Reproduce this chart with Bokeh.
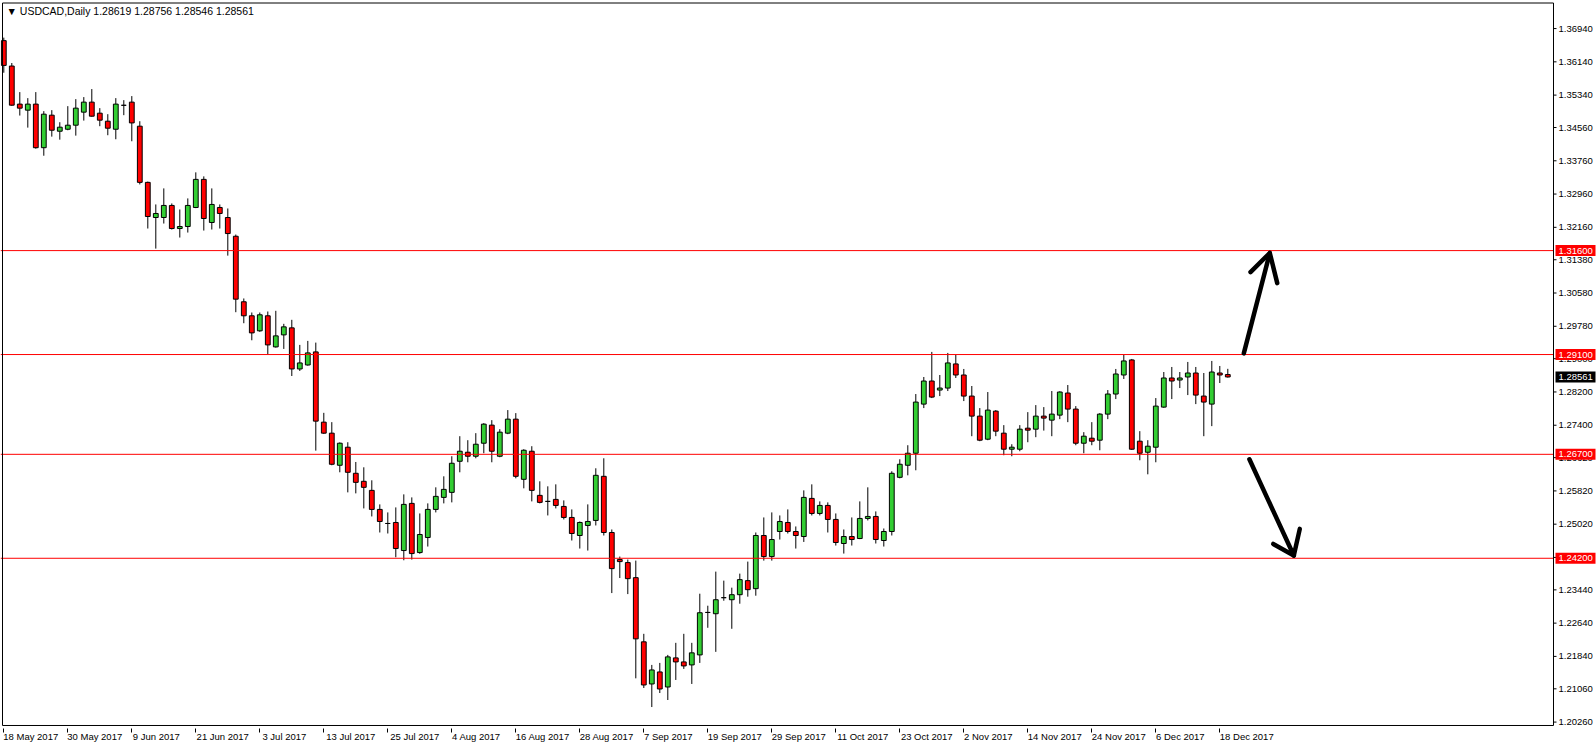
from bokeh.plotting import figure
from bokeh.models import (Range1d, FixedTicker, Label, ColumnDataSource)
from bokeh.core.properties import value
from bokeh.embed import file_html
from bokeh.resources import INLINE

# ---------------- data (USDCAD daily, 18 May 2017 - 19 Dec 2017) ----------------
opens = [1.36650, 1.36039, 1.35123, 1.34978, 1.35123, 1.34075, 1.34857, 1.34471, 1.34519, 1.34616,
         1.34930, 1.35171, 1.34905, 1.34712, 1.34519, 1.35095, 1.35171, 1.34592, 1.33241, 1.32396,
         1.32396, 1.32686, 1.32131, 1.32179, 1.32637, 1.33313, 1.32276, 1.32637, 1.32396, 1.31945,
         1.30369, 1.30032, 1.29670, 1.30032, 1.29284, 1.29573, 1.29742, 1.28753, 1.28849, 1.29163,
         1.27474, 1.27209, 1.26437, 1.26871, 1.26244, 1.26051, 1.25833, 1.25375, 1.25037, 1.25061,
         1.24386, 1.25520, 1.24337, 1.24699, 1.25375, 1.25664, 1.25785, 1.26533, 1.26750, 1.26654,
         1.26967, 1.27402, 1.26654, 1.27209, 1.27546, 1.26099, 1.26774, 1.25713, 1.25568, 1.25616,
         1.25447, 1.25182, 1.24748, 1.24989, 1.25110, 1.26171, 1.24820, 1.24169, 1.24096, 1.23734,
         1.22190, 1.21177, 1.21466, 1.21104, 1.21804, 1.21707, 1.21635, 1.21876, 1.22897, 1.22866,
         1.23252, 1.23203, 1.23324, 1.23662, 1.23469, 1.24748, 1.24241, 1.24844, 1.25061, 1.24844,
         1.24723, 1.25640, 1.25278, 1.25471, 1.25134, 1.24555, 1.24723, 1.24675, 1.25158, 1.25206,
         1.24627, 1.24844, 1.26147, 1.26437, 1.26726, 1.27908, 1.28463, 1.28246, 1.28294, 1.28874,
         1.28608, 1.28101, 1.27619, 1.27064, 1.27739, 1.27209, 1.26823, 1.26823, 1.27329, 1.27305,
         1.27619, 1.27522, 1.27643, 1.28174, 1.27788, 1.26967, 1.27088, 1.27040, 1.27667, 1.28150,
         1.28608, 1.28970, 1.27016, 1.26750, 1.26871, 1.27836, 1.28536, 1.28487, 1.28560, 1.28656,
         1.28101, 1.27908, 1.28656, 1.28619]
highs = [1.36722, 1.36112, 1.35412, 1.35267, 1.35412, 1.34954, 1.34978, 1.34688, 1.35074, 1.35243,
         1.35292, 1.35485, 1.35026, 1.34881, 1.35267, 1.35219, 1.35316, 1.34712, 1.33260, 1.32710,
         1.33096, 1.32734, 1.32589, 1.32855, 1.33482, 1.33385, 1.33096, 1.32710, 1.32613, 1.31986,
         1.30449, 1.30111, 1.30111, 1.30135, 1.30152, 1.29839, 1.29935, 1.29332, 1.29428, 1.29387,
         1.27698, 1.27474, 1.26987, 1.26991, 1.26516, 1.26388, 1.26075, 1.25496, 1.25303, 1.25423,
         1.25737, 1.25664, 1.25278, 1.25520, 1.25906, 1.26171, 1.26654, 1.27136, 1.27040, 1.27209,
         1.27450, 1.27522, 1.27305, 1.27764, 1.27691, 1.26823, 1.26895, 1.26051, 1.25930, 1.25978,
         1.25592, 1.25375, 1.25085, 1.25496, 1.26364, 1.26605, 1.24892, 1.24241, 1.24169, 1.24144,
         1.22383, 1.21635, 1.21683, 1.21876, 1.22166, 1.22383, 1.22166, 1.23348, 1.23059, 1.23879,
         1.23662, 1.23493, 1.23831, 1.24120, 1.24820, 1.25182, 1.25303, 1.25230, 1.25375, 1.24965,
         1.25833, 1.25978, 1.25568, 1.25544, 1.25278, 1.24892, 1.25182, 1.25568, 1.25906, 1.25327,
         1.24916, 1.26292, 1.26581, 1.26919, 1.28150, 1.28560, 1.29163, 1.28608, 1.29139, 1.29091,
         1.28753, 1.28343, 1.27812, 1.28198, 1.27764, 1.27402, 1.26943, 1.27402, 1.27715, 1.27884,
         1.27836, 1.28222, 1.28217, 1.28367, 1.27860, 1.27233, 1.27474, 1.27691, 1.28246, 1.28753,
         1.29091, 1.28994, 1.27257, 1.27040, 1.28053, 1.28680, 1.28801, 1.28680, 1.28922, 1.28801,
         1.28656, 1.28946, 1.28825, 1.28756]
lows = [1.35878, 1.35082, 1.34848, 1.34558, 1.34051, 1.33882, 1.34341, 1.34268, 1.34495, 1.34365,
        1.34727, 1.34821, 1.34592, 1.34375, 1.34278, 1.34857, 1.34230, 1.33192, 1.32131, 1.31648,
        1.32251, 1.32107, 1.31914, 1.32034, 1.32621, 1.32082, 1.32107, 1.32131, 1.31479, 1.30118,
        1.29853, 1.29443, 1.29646, 1.29105, 1.29267, 1.29235, 1.28584, 1.28705, 1.28832, 1.26789,
        1.27192, 1.26437, 1.26268, 1.25785, 1.25761, 1.25399, 1.25206, 1.24820, 1.24796, 1.24224,
        1.24152, 1.24169, 1.24308, 1.24482, 1.25303, 1.25520, 1.25544, 1.26268, 1.26509, 1.26605,
        1.26726, 1.26509, 1.26630, 1.27185, 1.26123, 1.25882, 1.25568, 1.25520, 1.25230, 1.25399,
        1.25134, 1.24627, 1.24434, 1.24386, 1.24989, 1.24748, 1.23363, 1.23725, 1.23338, 1.21312,
        1.21080, 1.20622, 1.20959, 1.20791, 1.21273, 1.21539, 1.21177, 1.21683, 1.22528, 1.21949,
        1.23179, 1.22504, 1.23107, 1.23276, 1.23300, 1.24144, 1.24144, 1.24651, 1.24796, 1.24434,
        1.24593, 1.25230, 1.25230, 1.24820, 1.24506, 1.24313, 1.24506, 1.24660, 1.25110, 1.24555,
        1.24482, 1.24748, 1.26123, 1.26195, 1.26316, 1.27812, 1.28053, 1.28101, 1.28222, 1.28536,
        1.27981, 1.27136, 1.27016, 1.27040, 1.27136, 1.26678, 1.26654, 1.26774, 1.26991, 1.27112,
        1.27271, 1.27136, 1.27546, 1.27474, 1.26919, 1.26726, 1.26919, 1.26798, 1.27546, 1.28029,
        1.28512, 1.26806, 1.26557, 1.26219, 1.26509, 1.27819, 1.28029, 1.28294, 1.28125, 1.27908,
        1.27136, 1.27378, 1.28415, 1.28546]
closes = [1.36054, 1.35098, 1.35026, 1.35123, 1.34075, 1.34881, 1.34495, 1.34568, 1.34616, 1.35026,
          1.35171, 1.34833, 1.34737, 1.34544, 1.35123, 1.35095, 1.34671, 1.33241, 1.32420, 1.32493,
          1.32686, 1.32131, 1.32179, 1.32686, 1.33313, 1.32372, 1.32710, 1.32493, 1.32010, 1.30432,
          1.30032, 1.29621, 1.30056, 1.29332, 1.29549, 1.29766, 1.28753, 1.28898, 1.29139, 1.27498,
          1.27209, 1.26461, 1.26967, 1.26268, 1.26026, 1.25906, 1.25375, 1.25085, 1.25037, 1.24434,
          1.25496, 1.24313, 1.24772, 1.25375, 1.25689, 1.25857, 1.26485, 1.26774, 1.26654, 1.26943,
          1.27426, 1.26774, 1.27233, 1.27546, 1.26171, 1.26798, 1.25833, 1.25544, 1.25568, 1.25471,
          1.25182, 1.24796, 1.25061, 1.25085, 1.26195, 1.24820, 1.23951, 1.24120, 1.23710, 1.22262,
          1.21153, 1.21514, 1.21056, 1.21828, 1.21707, 1.21611, 1.21925, 1.22890, 1.22897, 1.23203,
          1.23252, 1.23324, 1.23686, 1.23445, 1.24748, 1.24241, 1.24651, 1.25085, 1.24844, 1.24748,
          1.25664, 1.25278, 1.25471, 1.25134, 1.24579, 1.24723, 1.24651, 1.25158, 1.25206, 1.24651,
          1.24844, 1.26244, 1.26461, 1.26726, 1.27957, 1.28463, 1.28077, 1.28294, 1.28898, 1.28608,
          1.28101, 1.27619, 1.27040, 1.27764, 1.27257, 1.26823, 1.26871, 1.27305, 1.27281, 1.27619,
          1.27571, 1.27667, 1.28198, 1.27788, 1.26967, 1.27136, 1.27016, 1.27667, 1.28150, 1.28632,
          1.28946, 1.26823, 1.26726, 1.26895, 1.27860, 1.28536, 1.28463, 1.28536, 1.28656, 1.28125,
          1.27957, 1.28680, 1.28608, 1.28561]

date_labels = ["18 May 2017", "30 May 2017", "9 Jun 2017", "21 Jun 2017", "3 Jul 2017",
               "13 Jul 2017", "25 Jul 2017", "4 Aug 2017", "16 Aug 2017", "28 Aug 2017",
               "7 Sep 2017", "19 Sep 2017", "29 Sep 2017", "11 Oct 2017", "23 Oct 2017",
               "2 Nov 2017", "14 Nov 2017", "24 Nov 2017", "6 Dec 2017", "18 Dec 2017"]
bars_per_label = 8

price_ticks = [1.36940, 1.36140, 1.35340, 1.34560, 1.33760, 1.32960, 1.32160, 1.31380,
               1.30580, 1.29780, 1.29000, 1.28200, 1.27400, 1.26620, 1.25820, 1.25020,
               1.24220, 1.23440, 1.22640, 1.21840, 1.21060, 1.20260]

levels = [1.31600, 1.29100, 1.26700, 1.24200]
symbol = "USDCAD,Daily"

# hand-drawn arrows (bar index, price)
up_shaft_x = [155.0, 158.25]
up_shaft_y = [1.29129, 1.31542]
up_head_x = [155.84, 158.25, 159.18]
up_head_y = [1.31084, 1.31542, 1.30818]
down_shaft_x = [155.7, 161.25]
down_shaft_y = [1.26581, 1.24265]
down_head_x = [158.68, 161.25, 162.0]
down_head_y = [1.24545, 1.24265, 1.24907]

# ---------------- geometry ----------------
W, H = 1596, 744
PXB = 8.0                      # pixels per bar
XS = -3.3 / PXB                # left end of x range (bar units)
XE = XS + W / PXB              # frame spans full width; price scale drawn inside
XL = XS + 2.0 / PXB            # chart left border
XB = XS + 1553.0 / PXB         # chart right border (price scale to the right of it)
YT, YB = 1.37555, 1.20178      # chart top / bottom border prices
FH = 726                       # approx. frame height (figure minus date axis)
BOT_GAP = 3.0                  # px between chart bottom border and frame bottom
PPY = (FH - BOT_GAP - 2.5) / (YT - YB)
YE = YT + 2.5 / PPY
YS = YB - BOT_GAP / PPY
FONT = "Liberation Sans"
FS = "9.5px"

p = figure(width=W, height=H, x_range=Range1d(XS, XE), y_range=Range1d(YS, YE),
           output_backend="svg", toolbar_location=None, y_axis_location=None,
           min_border_left=0, min_border_right=0, min_border_top=0, min_border_bottom=0,
           background_fill_color="white", border_fill_color="white",
           outline_line_color=None)
p.grid.visible = False

# ---------------- candles ----------------
n = len(opens)
idx = list(range(n))
colors = []
for o, c in zip(opens, closes):
    if c > o:
        colors.append("#32CD32")
    elif c < o:
        colors.append("#FF0000")
    else:
        colors.append("#000000")
src = ColumnDataSource(dict(
    x=idx, high=highs, low=lows,
    top=[max(o, c) for o, c in zip(opens, closes)],
    bottom=[min(o, c) for o, c in zip(opens, closes)],
    color=colors))

p.segment(x0="x", y0="high", x1="x", y1="low", source=src, line_color="black", line_width=1)
p.vbar(x="x", top="top", bottom="bottom", width=0.6, source=src,
       fill_color="color", line_color="black", line_width=1)

# horizontal levels (stop at the chart border)
p.segment(x0=[XS] * len(levels), y0=levels, x1=[XB] * len(levels), y1=levels,
          line_color="#FF0000", line_width=1)

# arrows
p.multi_line(xs=[up_shaft_x, up_head_x, down_shaft_x, down_head_x],
             ys=[up_shaft_y, up_head_y, down_shaft_y, down_head_y],
             line_color="black", line_width=4.5, line_cap="round", line_join="round")

# chart border
p.line(x=[XL, XL, XB, XB, XL], y=[YB, YT, YT, YB, YB], line_color="black", line_width=1)

# ---------------- price scale (right) ----------------
px = 1.0 / PXB
p.segment(x0=[XB] * len(price_ticks), y0=price_ticks,
          x1=[XB + 3 * px] * len(price_ticks), y1=price_ticks,
          line_color="black", line_width=1)
p.text(x=[XB + 5 * px] * len(price_ticks), y=price_ticks,
       text=[f"{t:.5f}" for t in price_ticks],
       text_font=value(FONT), text_font_size=FS, text_color="black",
       text_align="left", text_baseline="middle")

tag_y = levels + [closes[-1]]
tag_c = ["#FF0000"] * len(levels) + ["#000000"]
p.rect(x=[XB + 22 * px] * len(tag_y), y=tag_y, width=40 * px, height=11,
       height_units="screen", fill_color=tag_c, line_color=None)
p.text(x=[XB + 5 * px] * len(tag_y), y=tag_y, text=[f"{v:.5f}" for v in tag_y],
       text_font=value(FONT), text_font_size=FS, text_color="white",
       text_align="left", text_baseline="middle")

# ---------------- date axis (below) ----------------
tick_pos = [i * bars_per_label for i in range(len(date_labels))]
lbl_pos = [round(t + len(s) * 4.75 / 2 / PXB + 0.1, 2) for t, s in zip(tick_pos, date_labels)]
xa = p.xaxis[0]
xa.ticker = FixedTicker(ticks=lbl_pos, minor_ticks=tick_pos)
xa.major_label_overrides = {v: s for v, s in zip(lbl_pos, date_labels)}
xa.major_tick_out = 0
xa.major_tick_in = 0
xa.minor_tick_out = 4
xa.minor_tick_in = 0
xa.minor_tick_line_color = "black"
xa.axis_line_color = None
xa.major_label_standoff = -2
xa.major_label_text_font = FONT
xa.major_label_text_font_size = FS
xa.major_label_text_color = "black"

# ---------------- title ----------------
title = f"\u25BC {symbol}  {opens[-1]:.5f} {highs[-1]:.5f} {lows[-1]:.5f} {closes[-1]:.5f}"
p.add_layout(Label(x=XS, y=YE, x_offset=6, y_offset=-4, text=title, text_font=FONT,
                   text_font_size="10.5px", text_color="black", text_align="left",
                   text_baseline="top"))

open("out.html", "w").write(file_html(p, INLINE))
